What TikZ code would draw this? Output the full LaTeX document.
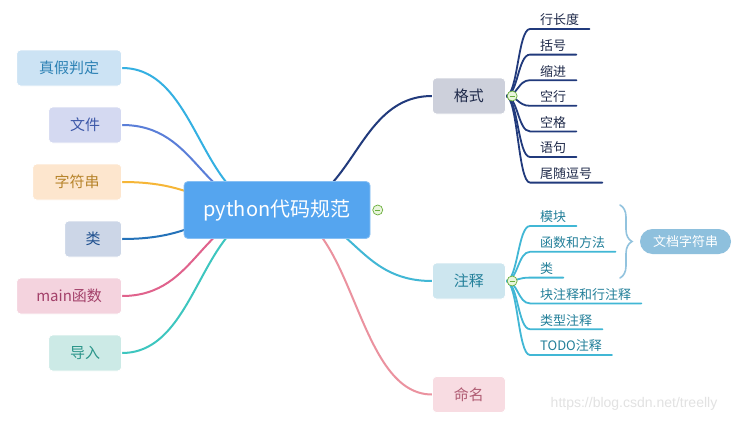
\documentclass[tikz,border=0pt]{standalone}
\usepackage{fontspec}
\setmainfont{Noto Sans CJK SC}
\newfontfamily\urlfont{Liberation Sans}
\usetikzlibrary{calc, backgrounds, positioning, decorations.pathreplacing}
\definecolor{mmRoot}{HTML}{55A5EF}
\definecolor{mmSky}{HTML}{34B0E2}
\definecolor{mmSkyBg}{HTML}{CCE3F4}
\definecolor{mmSkyTx}{HTML}{2D82B5}
\definecolor{mmIndigo}{HTML}{5A7ED8}
\definecolor{mmIndigoBg}{HTML}{D4D9F1}
\definecolor{mmIndigoTx}{HTML}{3D58A8}
\definecolor{mmAmber}{HTML}{F6B637}
\definecolor{mmAmberBg}{HTML}{FDE6CE}
\definecolor{mmAmberTx}{HTML}{B7842B}
\definecolor{mmCobalt}{HTML}{2472B9}
\definecolor{mmCobaltBg}{HTML}{CCD6E7}
\definecolor{mmCobaltTx}{HTML}{1E4F8E}
\definecolor{mmRose}{HTML}{E0628C}
\definecolor{mmRoseBg}{HTML}{F4D3DE}
\definecolor{mmRoseTx}{HTML}{A3416A}
\definecolor{mmTeal}{HTML}{3DC6BF}
\definecolor{mmTealBg}{HTML}{CCEAE6}
\definecolor{mmTealTx}{HTML}{2B958A}
\definecolor{mmNavy}{HTML}{213A7C}
\definecolor{mmNavyBg}{HTML}{CDD0DB}
\definecolor{mmNavyTx}{HTML}{1F2A4A}
\definecolor{mmCyan}{HTML}{41B7D5}
\definecolor{mmCyanBg}{HTML}{CDE6EF}
\definecolor{mmCyanTx}{HTML}{23809A}
\definecolor{mmPink}{HTML}{EB929F}
\definecolor{mmPinkBg}{HTML}{F8DCE2}
\definecolor{mmPinkTx}{HTML}{B05C73}
\definecolor{mmDoc}{HTML}{8EC0DD}
\definecolor{mmBrace}{HTML}{92C3DE}
\definecolor{mmFold}{HTML}{6AAF3C}
\definecolor{mmFoldBg}{HTML}{E9F5DC}
\definecolor{mmUrl}{HTML}{E2E2E2}

\begin{document}
\begin{tikzpicture}[
  x=1pt, y=-1pt,
  font=\fontsize{15}{18}\selectfont,
  topic/.style={rounded corners=4pt, minimum height=36pt, inner sep=0pt,
                draw=white, line width=0.8pt},
  leaf/.style={font=\fontsize{13}{15}\selectfont, anchor=south west,
               inner xsep=10pt, inner ysep=2pt, text height=11pt, text depth=2pt},
  branch/.style={line width=2pt, line cap=round,
    to path={let \p1=(\tikztostart), \p2=(\tikztotarget) in
             .. controls ({(\x1+\x2)/2},\y1) and ({(\x1+\x2)/2},\y2) .. (\tikztotarget)}},
  twig/.style={branch, line width=1.8pt},
  fold/.style={circle, draw=mmFold, fill=mmFoldBg, line width=0.7pt,
               minimum size=10pt, inner sep=0pt,
               path picture={\draw[mmFold, line width=1pt]
                 ([xshift=2.5pt]path picture bounding box.west) --
                 ([xshift=-2.5pt]path picture bounding box.east);}},
]
\useasboundingbox (0,0) rectangle (737,423);

% ================================ root =======================================
\node[rounded corners=4pt, fill=mmRoot, draw=mmRoot!70!white, line width=0.8pt,
      minimum width=186pt, minimum height=57pt, text=white,
      font=\fontsize{20}{24}\selectfont] (root) at (277,210) {python代码规范};
\node[fold, right=2pt of root] (rootfold) {};

% ============================== left topics ==================================
\node[topic, anchor=east, minimum width=105pt, fill=mmSkyBg, text=mmSkyTx] (tf) at (122,68) {真假判定};
\node[topic, anchor=east, minimum width=73pt, fill=mmIndigoBg, text=mmIndigoTx] (file) at (122,125) {文件};
\node[topic, anchor=east, minimum width=89pt, fill=mmAmberBg, text=mmAmberTx] (str) at (122,182) {字符串};
\node[topic, anchor=east, minimum width=57pt, fill=mmCobaltBg, text=mmCobaltTx] (cls) at (122,239) {类};
\node[topic, anchor=east, minimum width=105pt, fill=mmRoseBg, text=mmRoseTx] (mainf) at (122,296) {main函数};
\node[topic, anchor=east, minimum width=73pt, fill=mmTealBg, text=mmTealTx] (imp) at (122,353) {导入};

% ============================== right topics =================================
\node[topic, anchor=west, minimum width=73pt, fill=mmNavyBg, text=mmNavyTx] (fmt) at (432,96) {格式};
\node[topic, anchor=west, minimum width=73pt, fill=mmCyanBg, text=mmCyanTx] (cmt) at (432,281) {注释};
\node[topic, anchor=west, minimum width=73pt, fill=mmPinkBg, text=mmPinkTx] (name) at (432,394.5) {命名};

% --- the leaves sit on their own underline ---
\foreach \t [count=\i] in {行长度,括号,缩进,空行,空格,语句,尾随逗号}
  \node[leaf, text=mmNavyTx] (f\i) at (530,{29+25.6*(\i-1)}) {\t};
\foreach \t [count=\i] in {模块,函数和方法,类,块注释和行注释,类型注释,TODO注释}
  \node[leaf, text=mmCyanTx] (c\i) at (530,{226+25.8*(\i-1)}) {\t};

% The three docstring leaves are held together by a brace.
\coordinate (bt) at (620,205);
\coordinate (bb) at (620,278);
\draw[mmBrace, line width=1.6pt, line cap=round,
      decorate, decoration={brace, amplitude=12pt}] (bt) -- (bb);
\node[fill=mmDoc, text=white, rounded corners=12.5pt, minimum width=91pt,
      minimum height=25pt, inner sep=0pt, font=\fontsize{13}{15}\selectfont]
      (doc) at (685.5,241.5) {文档字符串};

% ============================== connectors ===================================
% White ground first, then the curves; the boxes cover their root ends.
\begin{scope}[on background layer]
  \fill[white] (0,0) rectangle (737,423);
  \foreach \who/\col in {tf/mmSky, file/mmIndigo, str/mmAmber,
                         cls/mmCobalt, mainf/mmRose, imp/mmTeal}
    \draw[branch, draw=\col] (root.center) to (\who.east);
  \foreach \who/\col in {fmt/mmNavy, cmt/mmCyan, name/mmPink}
    \draw[branch, draw=\col] (root.center) to (\who.west);
  \foreach \i in {1,...,7}
    \draw[twig, draw=mmNavy] (fmt.east) to (f\i.south west) -- (f\i.south east);
  \foreach \i in {1,...,6}
    \draw[twig, draw=mmCyan] (cmt.east) to (c\i.south west) -- (c\i.south east);
\end{scope}
\node[fold, right=1pt of fmt] (fmtfold) {};
\node[fold, right=1pt of cmt] (cmtfold) {};

\node[text=mmUrl, font=\urlfont\fontsize{14}{16}\selectfont] (wm) at (634,404) {https://blog.csdn.net/treelly};
\end{tikzpicture}
\end{document}
